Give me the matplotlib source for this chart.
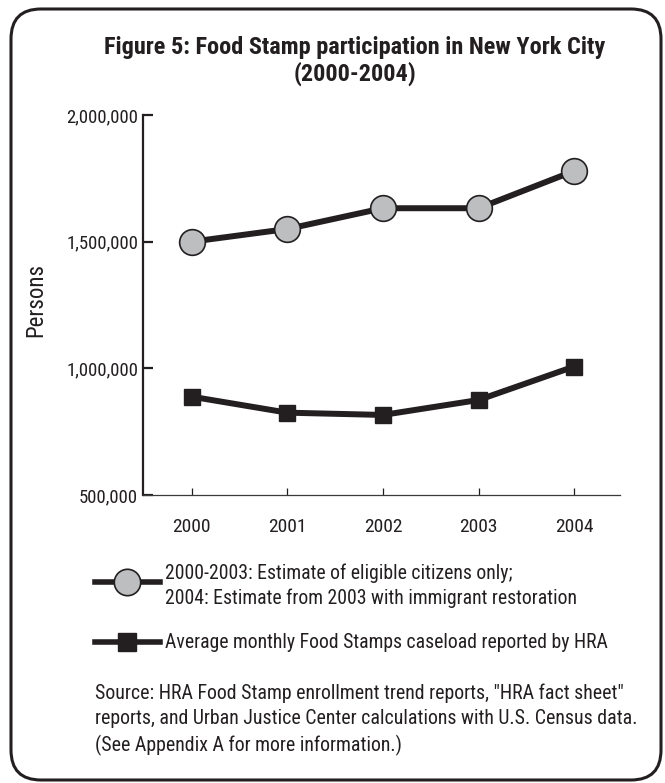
import matplotlib
matplotlib.use("Agg")
import matplotlib.pyplot as plt
from matplotlib.patches import FancyBboxPatch
from matplotlib.lines import Line2D
from matplotlib import font_manager
from matplotlib.ticker import FuncFormatter

# ---- data ----
years = [2000, 2001, 2002, 2003, 2004]
year_labels = ["2000", "2001", "2002", "2003", "2004"]
eligible = [1500000, 1550000, 1632000, 1632000, 1779000]
caseload = [888000, 825000, 816000, 875000, 1007000]
y_ticks = [500000, 1000000, 1500000, 2000000]

title = "Figure 5: Food Stamp participation in New York City\n(2000-2004)"
legend1_lines = ["2000-2003: Estimate of eligible citizens only;",
                 "2004: Estimate from 2003 with immigrant restoration"]
legend2 = "Average monthly Food Stamps caseload reported by HRA"
source_lines = ['Source: HRA Food Stamp enrollment trend reports, "HRA fact sheet"',
                'reports, and Urban Justice Center calculations with U.S. Census data.',
                '(See Appendix A for more information.)']

names = {f.name for f in font_manager.fontManager.ttflist}
fam = next((n for n in ["Roboto Condensed", "Liberation Sans Narrow", "Archivo Narrow",
                        "PT Sans Narrow", "Asap Condensed", "Liberation Sans"]
            if n in names), "DejaVu Sans")
plt.rcParams['font.family'] = [fam, 'DejaVu Sans']

INK = '#231f20'
W, H = 665, 783
fig = plt.figure(figsize=(W / 100, H / 100), dpi=100)

# overlay in pixel coordinates (y down)
ov = fig.add_axes([0, 0, 1, 1])
ov.set_xlim(0, W)
ov.set_ylim(H, 0)
ov.axis('off')
ov.add_patch(FancyBboxPatch((11, 9), 650, 771,
                            boxstyle="round,pad=0,rounding_size=30",
                            fill=False, lw=2.2, ec=INK))

ov.text(355, 61, title, ha='center', va='center', fontsize=17.5,
        fontweight='bold', color=INK, linespacing=1.1)

# main axes
left, right = 143 / W, 620 / W
bottom, top = 1 - 495 / H, 1 - 115 / H
ax = fig.add_axes([left, bottom, right - left, top - bottom])
ax.set_zorder(2)
ax.patch.set_alpha(0)
ax.plot(years, eligible, color=INK, lw=4.3, marker='o', ms=18.5,
        mfc='#bcbec0', mec=INK, mew=1.2, zorder=3, clip_on=False)
ax.plot(years, caseload, color=INK, lw=4.3, marker='s', ms=12,
        mfc=INK, mec=INK, zorder=3, clip_on=False)
ax.set_xlim(1999.49, 2004.48)
ax.set_ylim(500000, 2000000)
ax.set_yticks(y_ticks)
ax.yaxis.set_major_formatter(FuncFormatter(lambda v, p: f"{int(v):,}"))
ax.set_xticks(years)
ax.set_xticklabels(year_labels)
for s in ['top', 'right']:
    ax.spines[s].set_visible(False)
ax.spines['left'].set_linewidth(1.6)
ax.spines['left'].set_color(INK)
ax.spines['bottom'].set_linewidth(0.9)
ax.spines['bottom'].set_color('#3a3a3a')
ax.tick_params(axis='y', direction='in', length=7, width=1.6, pad=3.5,
               labelsize=13.5, colors=INK)
ax.tick_params(axis='x', direction='in', length=5, width=0.9, pad=16.5,
               labelsize=14, colors=INK)
ov.text(36, 300, "Persons", rotation=90, ha='center', va='center',
        fontsize=16.5, color=INK)

# legend (manual in overlay pixel coords)
ov.add_line(Line2D([95, 160], [582, 582], color=INK, lw=4))
ov.plot([127], [582], marker='o', ms=19, mfc='#bcbec0', mec=INK, mew=1.2)
for i, ln in enumerate(legend1_lines):
    ov.text(165, 573 + 25 * i, ln, ha='left', va='center', fontsize=14.2, color=INK)
ov.add_line(Line2D([95, 160], [642, 642], color=INK, lw=4))
ov.plot([127], [642], marker='s', ms=12.5, mfc=INK, mec=INK)
ov.text(165, 642, legend2, ha='left', va='center', fontsize=14.2, color=INK)
for i, ln in enumerate(source_lines):
    ov.text(95, 693 + 26 * i, ln, ha='left', va='center', fontsize=14.3, color=INK)

fig.savefig("out.png", dpi=100)
